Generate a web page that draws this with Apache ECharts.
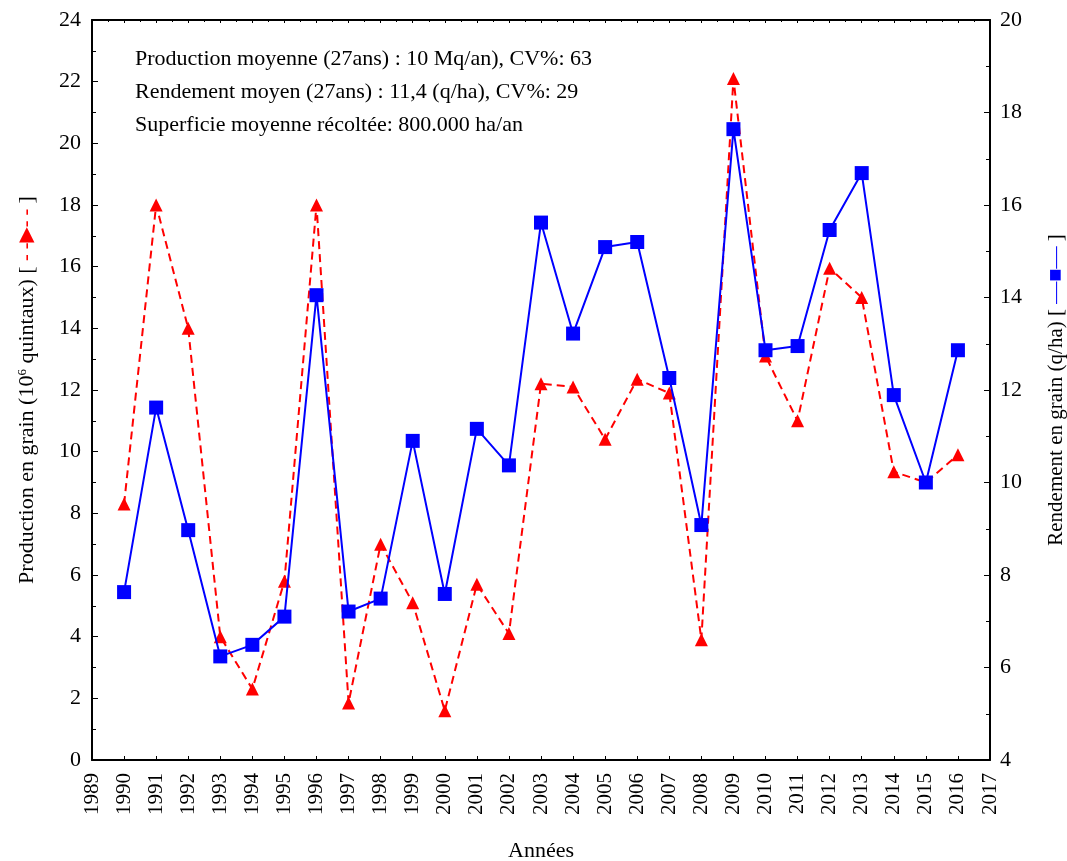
<!DOCTYPE html>
<html>
<head>
<meta charset="utf-8">
<script src="https://cdn.jsdelivr.net/npm/echarts@6/dist/echarts.min.js"></script>
<style>
html,body{margin:0;padding:0;background:#fff;}
#chart{width:1067px;height:861px;}
</style>
</head>
<body>
<div id="chart"></div>
<script>
const years = [1990,1991,1992,1993,1994,1995,1996,1997,1998,1999,2000,2001,2002,2003,2004,2005,2006,2007,2008,2009,2010,2011,2012,2013,2014,2015,2016];
const production = [8.3,18.0,14.0,4.0,2.3,5.8,18.0,1.85,7.0,5.1,1.6,5.7,4.1,12.2,12.1,10.4,12.35,11.9,3.9,22.1,13.1,11.0,15.95,15.0,9.35,9.0,9.9];
const rendement = [7.63,11.62,8.97,6.24,6.49,7.1,14.05,7.21,7.49,10.9,7.59,11.16,10.37,15.62,13.22,15.09,15.2,12.26,9.08,17.64,12.86,12.95,15.46,16.69,11.89,10.0,12.86];
const annotations = [
  "Production moyenne (27ans) : 10 Mq/an), CV%: 63",
  "Rendement moyen (27ans) : 11,4 (q/ha), CV%: 29",
  "Superficie moyenne récoltée: 800.000 ha/an"
];

const font = "'Liberation Serif', 'DejaVu Serif', serif";
const chart = echarts.init(document.getElementById('chart'));

const prodData = years.map((y, i) => [y, production[i]]);
const rendData = years.map((y, i) => [y, rendement[i]]);

chart.setOption({
  animation: false,
  backgroundColor: '#fff',
  grid: {left: 92, right: 77, top: 20, bottom: 101, containLabel: false, outerBoundsMode: 'none'},
  xAxis: [{
    type: 'value', min: 1989, max: 2017, interval: 1,
    name: 'Années', nameLocation: 'middle', nameGap: 80,
    nameTextStyle: {fontFamily: font, fontSize: 22, color: '#000'},
    axisLine: {onZero: false, lineStyle: {color: '#000', width: 2}},
    axisTick: {inside: true, length: 4, lineStyle: {color: '#000'}},
    axisLabel: {rotate: 90, fontFamily: font, fontSize: 21, color: '#000', margin: 13,
      formatter: v => String(v)},
    splitLine: {show: false}
  }, {
    type: 'value', min: 1989, max: 2017, interval: 1, position: 'top',
    axisLine: {onZero: false, lineStyle: {color: '#000', width: 2}},
    axisTick: {inside: true, length: 3, lineStyle: {color: '#000'}},
    minorTick: {show: true, splitNumber: 2, length: 2, lineStyle: {color: '#000'}},
    axisLabel: {show: false},
    splitLine: {show: false}
  }],
  yAxis: [{
    type: 'value', min: 0, max: 24, interval: 2, position: 'left',
    name: '{t|Production en grain (10}{s|6}{t| quintaux) [ }{r|- -▶- -}{t| ]}',
    nameLocation: 'middle', nameGap: 54, nameRotate: 90,
    nameTextStyle: {
      rich: {
        t: {fontFamily: font, fontSize: 22, color: '#000'},
        s: {fontFamily: font, fontSize: 13, color: '#000', verticalAlign: 'top', padding: [0,0,9,0]},
        r: {fontFamily: font, fontSize: 20, color: '#ff0000'}
      }
    },
    axisLine: {show: true, lineStyle: {color: '#000', width: 2}},
    axisTick: {show: true, inside: true, length: 6, lineStyle: {color: '#000'}},
    minorTick: {show: true, splitNumber: 2, length: 4, lineStyle: {color: '#000'}},
    axisLabel: {fontFamily: font, fontSize: 22, color: '#000', margin: 11},
    splitLine: {show: false}
  }, {
    type: 'value', min: 4, max: 20, interval: 2, position: 'right',
    name: '{t|Rendement en grain (q/ha) [ }{b|—■—}{t| ]}',
    nameLocation: 'middle', nameGap: 55, nameRotate: 90,
    nameTextStyle: {
      rich: {
        t: {fontFamily: font, fontSize: 21, color: '#000'},
        b: {fontFamily: font, fontSize: 22, color: '#0000ff'}
      }
    },
    axisLine: {show: true, lineStyle: {color: '#000', width: 2}},
    axisTick: {show: true, inside: true, length: 6, lineStyle: {color: '#000'}},
    minorTick: {show: true, splitNumber: 2, length: 4, lineStyle: {color: '#000'}},
    axisLabel: {fontFamily: font, fontSize: 22, color: '#000', margin: 10},
    splitLine: {show: false}
  }],
  graphic: annotations.map((txt, i) => ({
    type: 'text', left: 135, top: 48 + i * 33,
    style: {text: txt, fontFamily: font, fontSize: 22, fill: '#000'}
  })),
  series: [{
    name: 'Production', type: 'line', xAxisIndex: 0, yAxisIndex: 0,
    data: prodData,
    symbol: 'triangle', symbolSize: 13,
    itemStyle: {color: '#ff0000'},
    lineStyle: {color: '#ff0000', width: 2, type: [8, 5]},
    z: 2
  }, {
    name: 'Rendement', type: 'line', xAxisIndex: 0, yAxisIndex: 1,
    data: rendData,
    symbol: 'rect', symbolSize: 14,
    itemStyle: {color: '#0000ff'},
    lineStyle: {color: '#0000ff', width: 2},
    z: 3
  }]
});
</script>
</body>
</html>
